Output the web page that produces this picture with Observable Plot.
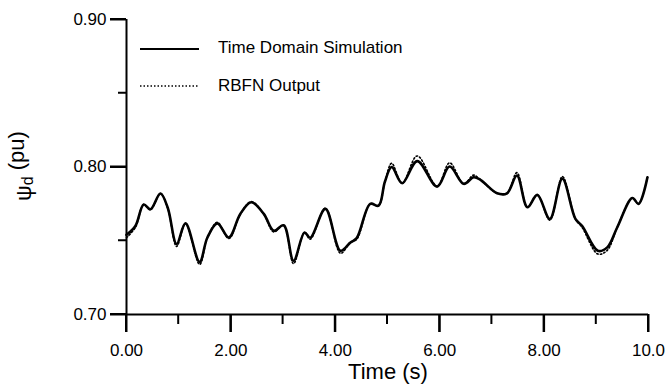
<!DOCTYPE html>
<html>
<head>
<meta charset="utf-8">
<script src="https://cdn.jsdelivr.net/npm/d3@7"></script>
<script src="https://cdn.jsdelivr.net/npm/@observablehq/plot@0.6"></script>
<style>
  html, body { margin: 0; padding: 0; background: white; }
  #chart { width: 671px; height: 387px; }
</style>
</head>
<body>
<div id="chart"></div>
<script>
// Data
const time = [0.00,0.17,0.33,0.46,0.65,0.79,0.96,1.13,1.40,1.55,1.74,1.96,2.18,2.39,2.63,2.82,3.01,3.20,3.41,3.52,3.81,4.10,4.29,4.41,4.67,4.83,4.95,5.08,5.28,5.57,5.95,6.19,6.46,6.65,6.78,7.10,7.29,7.48,7.68,7.87,8.11,8.35,8.60,8.73,9.03,9.21,9.40,9.69,9.81,9.98];
const timeDomain = [0.754,0.760,0.7745,0.7713,0.782,0.7724,0.7478,0.7618,0.7357,0.7522,0.7618,0.7522,0.7682,0.7761,0.7682,0.7568,0.7605,0.7364,0.7556,0.752,0.7716,0.7432,0.7488,0.7518,0.775,0.7738,0.790,0.800,0.789,0.804,0.7867,0.8003,0.7886,0.793,0.7913,0.7822,0.7822,0.7942,0.7727,0.7811,0.7648,0.792,0.7648,0.760,0.7432,0.7455,0.759,0.779,0.775,0.793];
const rbfnOutput = [0.752,0.759,0.7745,0.771,0.782,0.772,0.7462,0.7618,0.734,0.752,0.7625,0.7515,0.768,0.7765,0.768,0.756,0.7605,0.7345,0.7556,0.751,0.772,0.7415,0.749,0.751,0.775,0.7738,0.790,0.8025,0.789,0.8075,0.787,0.8028,0.7886,0.7945,0.7913,0.7822,0.7822,0.7962,0.7727,0.781,0.764,0.7935,0.7648,0.759,0.741,0.7435,0.759,0.779,0.775,0.793];
const seriesNames = ["Time Domain Simulation", "RBFN Output"];
const xMajorTicks = [0, 2, 4, 6, 8, 10];
const xMinorTicks = [1, 3, 5, 7, 9];
const yMajorTicks = [0.70, 0.80, 0.90];
const yMinorTicks = [0.75, 0.85];
const xTickLabels = ["0.00", "2.00", "4.00", "6.00", "8.00", "10.0"];

const tdRows = time.map((t, i) => ({t, v: timeDomain[i]}));
const rbRows = time.map((t, i) => ({t, v: rbfnOutput[i]}));

const font = "'Liberation Sans', Arial, sans-serif";

const chart = Plot.plot({
  width: 671,
  height: 387,
  marginLeft: 126,
  marginRight: 23,
  marginTop: 19,
  marginBottom: 73,
  style: {fontFamily: font, fontSize: "17px", color: "black", background: "white"},
  x: {domain: [0, 10]},
  y: {domain: [0.70, 0.90]},
  marks: [
    Plot.axisX({ticks: xMajorTicks, tickSize: 18, tickPadding: 11, strokeWidth: 2, fontSize: 17,
      tickFormat: d => xTickLabels[xMajorTicks.indexOf(d)], label: null}),
    Plot.axisY({ticks: yMajorTicks, tickSize: 16, tickPadding: 4, strokeWidth: 2, fontSize: 17,
      tickFormat: d3.format(".2f"), label: null}),
    Plot.ruleX([0], {strokeWidth: 2}),
    Plot.ruleY([0.70], {strokeWidth: 2}),
    Plot.line(rbRows, {x: "t", y: "v", curve: "catmull-rom", stroke: "black", strokeWidth: 1.6, strokeDasharray: "1.5,2.2"}),
    Plot.line(tdRows, {x: "t", y: "v", curve: "catmull-rom", stroke: "black", strokeWidth: 2.6})
  ]
});

document.getElementById("chart").appendChild(chart);

const svg = d3.select(chart);
const xs = chart.scale("x");
const ys = chart.scale("y");
const x0 = xs.apply(0);
const yBase = ys.apply(0.70);

// Tick marks drawn with the plot's own scales
const ticks = svg.append("g").attr("stroke", "black").attr("stroke-width", 2);
xMajorTicks.forEach(v => ticks.append("line").attr("x1", xs.apply(v)).attr("x2", xs.apply(v)).attr("y1", yBase).attr("y2", yBase + 18));
xMinorTicks.forEach(v => ticks.append("line").attr("x1", xs.apply(v)).attr("x2", xs.apply(v)).attr("y1", yBase).attr("y2", yBase + 10));
yMajorTicks.forEach(v => ticks.append("line").attr("y1", ys.apply(v)).attr("y2", ys.apply(v)).attr("x1", x0 - 16).attr("x2", x0));
yMinorTicks.forEach(v => ticks.append("line").attr("y1", ys.apply(v)).attr("y2", ys.apply(v)).attr("x1", x0 - 8).attr("x2", x0));

// Legend
const legend = svg.append("g").attr("font-family", font).attr("font-size", 17).attr("fill", "black").attr("text-anchor", "start");
legend.append("line").attr("x1", 140).attr("x2", 199).attr("y1", 49).attr("y2", 49)
  .attr("stroke", "black").attr("stroke-width", 2);
legend.append("line").attr("x1", 140).attr("x2", 199).attr("y1", 86).attr("y2", 86)
  .attr("stroke", "black").attr("stroke-width", 1.5).attr("stroke-dasharray", "1.5,2");
legend.append("text").attr("x", 218).attr("y", 53).text(seriesNames[0]);
legend.append("text").attr("x", 218).attr("y", 91).text(seriesNames[1]);

// Axis titles
svg.append("text").attr("x", 388).attr("y", 379).attr("text-anchor", "middle")
  .attr("font-family", font).attr("font-size", 22).attr("fill", "black").text("Time (s)");

const yt = svg.append("text").attr("transform", "translate(24,166) rotate(-90)")
  .attr("text-anchor", "middle").attr("font-family", font).attr("font-size", 22).attr("fill", "black");
yt.append("tspan").attr("dy", 7).text("ψ");
yt.append("tspan").attr("dy", 2).attr("font-size", 16).text("d");
yt.append("tspan").attr("dy", -9).text(" (pu)");
</script>
</body>
</html>
